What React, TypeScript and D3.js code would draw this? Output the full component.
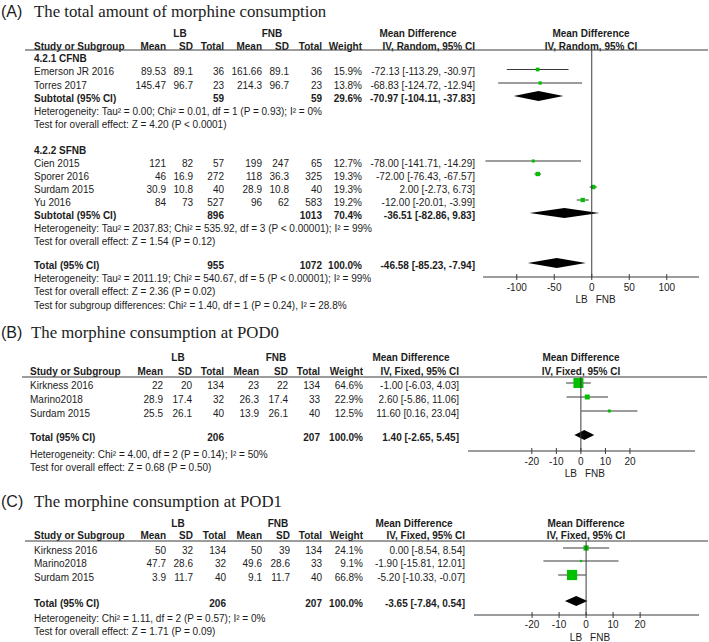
import React from "react";
import * as d3 from "d3";

// ---------------- Panel A data ----------------
const studiesA = ["Emerson JR 2016", "Torres 2017", "Cien 2015", "Sporer 2016", "Surdam 2015", "Yu 2016"];
const subgroupOfA = [0, 0, 1, 1, 1, 1];
const lbMeanA = [89.53, 145.47, 121, 46, 30.9, 84];
const lbSdA = [89.1, 96.7, 82, 16.9, 10.8, 73];
const lbNA = [36, 23, 57, 272, 40, 527];
const fnbMeanA = [161.66, 214.3, 199, 118, 28.9, 96];
const fnbSdA = [89.1, 96.7, 247, 36.3, 10.8, 62];
const fnbNA = [36, 23, 65, 325, 40, 583];
const weightA = [15.9, 13.8, 12.7, 19.3, 19.3, 19.2];
const mdA = [-72.13, -68.83, -78.0, -72.0, 2.0, -12.0];
const loA = [-113.29, -124.72, -141.71, -76.43, -2.73, -20.01];
const hiA = [-30.97, -12.94, -14.29, -67.57, 6.73, -3.99];

const subNamesA = ["4.2.1 CFNB", "4.2.2 SFNB"];
const subLbNA = [59, 896];
const subFnbNA = [59, 1013];
const subWeightA = [29.6, 70.4];
const subMdA = [-70.97, -36.51];
const subLoA = [-104.11, -82.86];
const subHiA = [-37.83, 9.83];
const subHetA = [
  "Heterogeneity: Tau² = 0.00; Chi² = 0.01, df = 1 (P = 0.93); I² = 0%",
  "Heterogeneity: Tau² = 2037.83; Chi² = 535.92, df = 3 (P < 0.00001); I² = 99%",
];
const subTestA = ["Test for overall effect: Z = 4.20 (P < 0.0001)", "Test for overall effect: Z = 1.54 (P = 0.12)"];

const totalA = { lbN: 955, fnbN: 1072, weight: 100.0, md: -46.58, lo: -85.23, hi: -7.94 };
const totalHetA = "Heterogeneity: Tau² = 2011.19; Chi² = 540.67, df = 5 (P < 0.00001); I² = 99%";
const totalTestA = "Test for overall effect: Z = 2.36 (P = 0.02)";
const subgroupDiffA = "Test for subgroup differences: Chi² = 1.40, df = 1 (P = 0.24), I² = 28.8%";
const ticksA = [-100, -50, 0, 50, 100];

// ---------------- Panel B data ----------------
const studiesB = ["Kirkness 2016", "Marino2018", "Surdam 2015"];
const lbMeanB = [22, 28.9, 25.5];
const lbSdB = [20, 17.4, 26.1];
const lbNB = [134, 32, 40];
const fnbMeanB = [23, 26.3, 13.9];
const fnbSdB = [22, 17.4, 26.1];
const fnbNB = [134, 33, 40];
const weightB = [64.6, 22.9, 12.5];
const mdB = [-1.0, 2.6, 11.6];
const loB = [-6.03, -5.86, 0.16];
const hiB = [4.03, 11.06, 23.04];
const totalB = { lbN: 206, fnbN: 207, weight: 100.0, md: 1.4, lo: -2.65, hi: 5.45 };
const totalHetB = "Heterogeneity: Chi² = 4.00, df = 2 (P = 0.14); I² = 50%";
const totalTestB = "Test for overall effect: Z = 0.68 (P = 0.50)";

// ---------------- Panel C data ----------------
const studiesC = ["Kirkness 2016", "Marino2018", "Surdam 2015"];
const lbMeanC = [50, 47.7, 3.9];
const lbSdC = [32, 28.6, 11.7];
const lbNC = [134, 32, 40];
const fnbMeanC = [50, 49.6, 9.1];
const fnbSdC = [39, 28.6, 11.7];
const fnbNC = [134, 33, 40];
const weightC = [24.1, 9.1, 66.8];
const mdC = [0.0, -1.9, -5.2];
const loC = [-8.54, -15.81, -10.33];
const hiC = [8.54, 12.01, -0.07];
const totalC = { lbN: 206, fnbN: 207, weight: 100.0, md: -3.65, lo: -7.84, hi: 0.54 };
const totalHetC = "Heterogeneity: Chi² = 1.11, df = 2 (P = 0.57); I² = 0%";
const totalTestC = "Test for overall effect: Z = 1.71 (P = 0.09)";
const ticksBC = [-20, -10, 0, 10, 20];

// ---------------- styles ----------------
const SANS = "'Liberation Sans', Arial, Helvetica, sans-serif";
const SERIF = "'Liberation Serif', 'Times New Roman', serif";
const TXT = "#1c1c1c";
const LINE = "#3a3a3a";
const GREEN = "#00c000";
const FS = 10;

type Row = {
  kind: "heading" | "study" | "subtotal" | "het" | "test" | "total";
  label: string;
  y: number;
  lbMean?: number;
  lbSd?: number;
  lbN?: number;
  fnbMean?: number;
  fnbSd?: number;
  fnbN?: number;
  weight?: number;
  md?: number;
  lo?: number;
  hi?: number;
};

type Cols = {
  study: number; lbMean: number; lbSd: number; lbN: number;
  fnbMean: number; fnbSd: number; fnbN: number; weight: number; ci: number;
};

type PanelProps = {
  letter: string; title: string; titleX: number; titleY: number;
  groupY: number; headerY: number; lineY: number; lineX0: number; lineX1: number;
  cols: Cols; lbCenter: number; fnbCenter: number; mdHeadCenter: number; method: string;
  domain: [number, number]; range: [number, number]; forestHeadCenter: number;
  axisY: number; tickLabelY: number; favY: number; ticks: number[]; rows: Row[];
};

const sq = (w: number) => Math.max(2, 1.556 * Math.sqrt(w) - 2.5);

function T(props: { x: number; y: number; anchor?: string; bold?: boolean; children: any; size?: number; family?: string }) {
  return (
    <text
      x={props.x}
      y={props.y + 3.6}
      textAnchor={props.anchor || "start"}
      fontFamily={props.family || SANS}
      fontSize={props.size || FS}
      fontWeight={props.bold ? "bold" : "normal"}
      fill={TXT}
    >
      {props.children}
    </text>
  );
}

function Panel(p: PanelProps) {
  const x = d3.scaleLinear().domain(p.domain).range(p.range);
  const c = p.cols;
  const ci = (r: Row) => `${r.md!.toFixed(2)} [${r.lo!.toFixed(2)}, ${r.hi!.toFixed(2)}]`;
  const x0 = x(0);
  return (
    <g>
      <text x={1} y={p.titleY + 6} fontFamily={SANS} fontSize={16} fill={TXT}>{p.letter}</text>
      <text x={p.titleX} y={p.titleY + 6} fontFamily={SERIF} fontSize={16.8} fill={TXT}>{p.title}</text>

      <T x={p.lbCenter} y={p.groupY} anchor="middle" bold>LB</T>
      <T x={p.fnbCenter} y={p.groupY} anchor="middle" bold>FNB</T>
      <T x={p.mdHeadCenter} y={p.groupY} anchor="middle" bold>Mean Difference</T>
      <T x={p.forestHeadCenter} y={p.groupY} anchor="middle" bold>Mean Difference</T>

      <T x={c.study} y={p.headerY} bold>Study or Subgroup</T>
      <T x={c.lbMean} y={p.headerY} anchor="end" bold>Mean</T>
      <T x={c.lbSd} y={p.headerY} anchor="end" bold>SD</T>
      <T x={c.lbN} y={p.headerY} anchor="end" bold>Total</T>
      <T x={c.fnbMean} y={p.headerY} anchor="end" bold>Mean</T>
      <T x={c.fnbSd} y={p.headerY} anchor="end" bold>SD</T>
      <T x={c.fnbN} y={p.headerY} anchor="end" bold>Total</T>
      <T x={c.weight} y={p.headerY} anchor="end" bold>Weight</T>
      <T x={c.ci} y={p.headerY} anchor="end" bold>{p.method}</T>
      <T x={p.forestHeadCenter} y={p.headerY} anchor="middle" bold>{p.method}</T>

      <line x1={p.lineX0} x2={p.lineX1} y1={p.lineY} y2={p.lineY} stroke={LINE} strokeWidth={1} />

      {p.rows.map((r, i) => {
        const bold = r.kind === "heading" || r.kind === "subtotal" || r.kind === "total";
        if (r.kind === "heading" || r.kind === "het" || r.kind === "test") {
          return <T key={i} x={c.study} y={r.y} bold={bold}>{r.label}</T>;
        }
        const my = r.y - 2;
        return (
          <g key={i}>
            <T x={c.study} y={r.y} bold={bold}>{r.label}</T>
            {r.kind === "study" && (
              <>
                <T x={c.lbMean} y={r.y} anchor="end">{String(r.lbMean)}</T>
                <T x={c.lbSd} y={r.y} anchor="end">{String(r.lbSd)}</T>
                <T x={c.fnbMean} y={r.y} anchor="end">{String(r.fnbMean)}</T>
                <T x={c.fnbSd} y={r.y} anchor="end">{String(r.fnbSd)}</T>
              </>
            )}
            <T x={c.lbN} y={r.y} anchor="end" bold={bold}>{String(r.lbN)}</T>
            <T x={c.fnbN} y={r.y} anchor="end" bold={bold}>{String(r.fnbN)}</T>
            <T x={c.weight} y={r.y} anchor="end" bold={bold}>{r.weight!.toFixed(1) + "%"}</T>
            <T x={c.ci} y={r.y} anchor="end" bold={bold}>{ci(r)}</T>
            {r.kind === "study" ? (
              <g>
                <line x1={x(r.lo!)} x2={x(r.hi!)} y1={my} y2={my} stroke={LINE} strokeWidth={1} />
                <rect
                  x={x(r.md!) - sq(r.weight!) / 2}
                  y={my - sq(r.weight!) / 2}
                  width={sq(r.weight!)}
                  height={sq(r.weight!)}
                  fill={GREEN}
                />
              </g>
            ) : (
              <path
                d={`M${x(r.lo!)},${my} L${x(r.md!)},${my - 5} L${x(r.hi!)},${my} L${x(r.md!)},${my + 5} Z`}
                fill="#000"
              />
            )}
          </g>
        );
      })}

      <line x1={x0} x2={x0} y1={p.lineY} y2={p.axisY} stroke={LINE} strokeWidth={1} />
      <line x1={p.range[0]} x2={p.range[1]} y1={p.axisY} y2={p.axisY} stroke={LINE} strokeWidth={1} />
      {p.ticks.map((t) => (
        <g key={t}>
          <line x1={x(t)} x2={x(t)} y1={p.axisY - 3} y2={p.axisY + 3} stroke={LINE} strokeWidth={1} />
          <T x={x(t)} y={p.tickLabelY} anchor="middle">{String(t)}</T>
        </g>
      ))}
      <T x={x0 - 4} y={p.favY} anchor="end">LB</T>
      <T x={x0 + 4} y={p.favY}>FNB</T>
    </g>
  );
}

function studyRow(label: string, y: number, i: number, a: any): Row {
  return {
    kind: "study", label, y,
    lbMean: a.lbMean[i], lbSd: a.lbSd[i], lbN: a.lbN[i],
    fnbMean: a.fnbMean[i], fnbSd: a.fnbSd[i], fnbN: a.fnbN[i],
    weight: a.weight[i], md: a.md[i], lo: a.lo[i], hi: a.hi[i],
  };
}

function buildRowsA(ys: number[]): Row[] {
  const rows: Row[] = [];
  let k = 0;
  const a = { lbMean: lbMeanA, lbSd: lbSdA, lbN: lbNA, fnbMean: fnbMeanA, fnbSd: fnbSdA, fnbN: fnbNA, weight: weightA, md: mdA, lo: loA, hi: hiA };
  subNamesA.forEach((name, g) => {
    rows.push({ kind: "heading", label: name, y: ys[k++] });
    studiesA.forEach((s, i) => {
      if (subgroupOfA[i] === g) rows.push(studyRow(s, ys[k++], i, a));
    });
    rows.push({
      kind: "subtotal", label: "Subtotal (95% CI)", y: ys[k++],
      lbN: subLbNA[g], fnbN: subFnbNA[g], weight: subWeightA[g], md: subMdA[g], lo: subLoA[g], hi: subHiA[g],
    });
    rows.push({ kind: "het", label: subHetA[g], y: ys[k++] });
    rows.push({ kind: "test", label: subTestA[g], y: ys[k++] });
  });
  rows.push({ kind: "total", label: "Total (95% CI)", y: ys[k++], ...totalA });
  rows.push({ kind: "het", label: totalHetA, y: ys[k++] });
  rows.push({ kind: "test", label: totalTestA, y: ys[k++] });
  rows.push({ kind: "test", label: subgroupDiffA, y: ys[k++] });
  return rows;
}

function buildRowsSimple(ys: number[], studies: string[], a: any, total: any, het: string, test: string): Row[] {
  const rows: Row[] = [];
  let k = 0;
  studies.forEach((s, i) => rows.push(studyRow(s, ys[k++], i, a)));
  rows.push({ kind: "total", label: "Total (95% CI)", y: ys[k++], ...total });
  rows.push({ kind: "het", label: het, y: ys[k++] });
  rows.push({ kind: "test", label: test, y: ys[k++] });
  return rows;
}

export default function App() {
  const rowsA = buildRowsA([58, 71.5, 85, 98, 111, 124, 150, 163, 176, 189, 202, 215, 228, 241.5, 265, 278, 291.5, 305]);
  const rowsB = buildRowsSimple(
    [385, 399, 413, 437, 454, 467],
    studiesB,
    { lbMean: lbMeanB, lbSd: lbSdB, lbN: lbNB, fnbMean: fnbMeanB, fnbSd: fnbSdB, fnbN: fnbNB, weight: weightB, md: mdB, lo: loB, hi: hiB },
    totalB, totalHetB, totalTestB
  );
  const rowsC = buildRowsSimple(
    [550, 563, 577, 603, 618, 631],
    studiesC,
    { lbMean: lbMeanC, lbSd: lbSdC, lbN: lbNC, fnbMean: fnbMeanC, fnbSd: fnbSdC, fnbN: fnbNC, weight: weightC, md: mdC, lo: loC, hi: hiC },
    totalC, totalHetC, totalTestC
  );

  return (
    <svg width={709} height={642} style={{ position: "absolute", left: 0, top: 0, background: "#fff" }}>
      <rect x={0} y={0} width={709} height={642} fill="#fff" />
      <Panel
        letter="(A)" title="The total amount of morphine consumption" titleX={34} titleY={11}
        groupY={33} headerY={46} lineY={50} lineX0={25} lineX1={708}
        cols={{ study: 34, lbMean: 166, lbSd: 193, lbN: 224, fnbMean: 262, fnbSd: 289, fnbN: 322, weight: 362, ci: 475 }}
        lbCenter={180} fnbCenter={272} mdHeadCenter={418} method="IV, Random, 95% CI"
        domain={[-145, 143]} range={[483, 699]} forestHeadCenter={591}
        axisY={277} tickLabelY={287} favY={299} ticks={ticksA} rows={rowsA}
      />
      <Panel
        letter="(B)" title="The morphine consumption at POD0" titleX={31} titleY={332}
        groupY={357} headerY={371} lineY={377} lineX0={22} lineX1={707}
        cols={{ study: 30, lbMean: 163, lbSd: 192, lbN: 224, fnbMean: 259, fnbSd: 288, fnbN: 320, weight: 363, ci: 459 }}
        lbCenter={178} fnbCenter={276} mdHeadCenter={411} method="IV, Fixed, 95% CI"
        domain={[-46, 46.5]} range={[468, 695]} forestHeadCenter={581}
        axisY={451} tickLabelY={461} favY={473} ticks={ticksBC} rows={rowsB}
      />
      <Panel
        letter="(C)" title="The morphine consumption at POD1" titleX={34} titleY={501}
        groupY={523} headerY={535} lineY={541} lineX0={25} lineX1={708}
        cols={{ study: 34, lbMean: 166, lbSd: 193, lbN: 226, fnbMean: 262, fnbSd: 290, fnbN: 322, weight: 363, ci: 465 }}
        lbCenter={178} fnbCenter={278} mdHeadCenter={414} method="IV, Fixed, 95% CI"
        domain={[-41.5, 41.8]} range={[474, 699]} forestHeadCenter={586}
        axisY={615} tickLabelY={624} favY={637} ticks={ticksBC} rows={rowsC}
      />
    </svg>
  );
}
